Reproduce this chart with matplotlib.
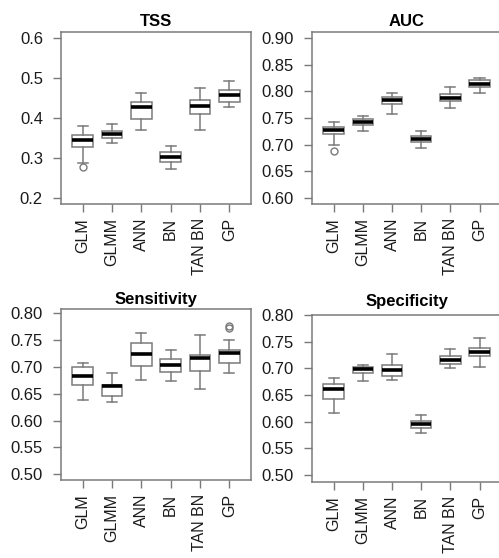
import matplotlib
matplotlib.use("Agg")
import matplotlib.pyplot as plt

plt.rcParams["font.family"] = ["Liberation Sans", "DejaVu Sans"]

models = ["GLM", "GLMM", "ANN", "BN", "TAN BN", "GP"]

# box summaries per model: lower whisker, Q1, median, Q3, upper whisker
tss_low = [0.286, 0.337, 0.370, 0.271, 0.371, 0.428]
tss_q1 = [0.328, 0.349, 0.398, 0.289, 0.409, 0.439]
tss_med = [0.346, 0.359, 0.427, 0.302, 0.430, 0.459]
tss_q3 = [0.357, 0.368, 0.441, 0.314, 0.446, 0.471]
tss_high = [0.380, 0.386, 0.463, 0.330, 0.476, 0.494]
tss_out = [[0.278], [], [], [], [], []]

auc_low = [0.700, 0.726, 0.757, 0.694, 0.769, 0.797]
auc_q1 = [0.719, 0.737, 0.776, 0.705, 0.782, 0.808]
auc_med = [0.728, 0.742, 0.784, 0.710, 0.788, 0.814]
auc_q3 = [0.734, 0.749, 0.790, 0.717, 0.795, 0.821]
auc_high = [0.743, 0.754, 0.798, 0.726, 0.808, 0.826]
auc_out = [[0.687], [], [], [], [], []]

sens_low = [0.638, 0.634, 0.675, 0.673, 0.658, 0.688]
sens_q1 = [0.666, 0.646, 0.701, 0.691, 0.693, 0.708]
sens_med = [0.683, 0.664, 0.725, 0.703, 0.716, 0.726]
sens_q3 = [0.699, 0.666, 0.744, 0.714, 0.722, 0.732]
sens_high = [0.708, 0.688, 0.763, 0.732, 0.760, 0.751]
sens_out = [[], [], [], [], [], [0.772, 0.777]]

spec_low = [0.617, 0.676, 0.678, 0.579, 0.701, 0.702]
spec_q1 = [0.643, 0.692, 0.686, 0.589, 0.709, 0.723]
spec_med = [0.662, 0.698, 0.697, 0.595, 0.715, 0.731]
spec_q3 = [0.670, 0.703, 0.706, 0.601, 0.723, 0.739]
spec_high = [0.681, 0.706, 0.726, 0.612, 0.736, 0.756]
spec_out = [[], [], [], [], [], []]

panels = [
    ("TSS", [0.1222, 0.6344, 0.3808, 0.3082], (0.184, 0.616), [0.2, 0.3, 0.4, 0.5, 0.6], "%.1f", 4,
     tss_low, tss_q1, tss_med, tss_q3, tss_high, tss_out),
    ("AUC", [0.6253, 0.6344, 0.3790, 0.3082], (0.588, 0.912),
     [0.60, 0.65, 0.70, 0.75, 0.80, 0.85, 0.90], "%.2f", 4,
     auc_low, auc_q1, auc_med, auc_q3, auc_high, auc_out),
    ("Sensitivity", [0.1222, 0.1398, 0.3808, 0.3073], (0.489, 0.809),
     [0.50, 0.55, 0.60, 0.65, 0.70, 0.75, 0.80], "%.2f", 3,
     sens_low, sens_q1, sens_med, sens_q3, sens_high, sens_out),
    ("Specificity", [0.6253, 0.1362, 0.3790, 0.2993], (0.487, 0.800),
     [0.50, 0.55, 0.60, 0.65, 0.70, 0.75, 0.80], "%.2f", 6.5,
     spec_low, spec_q1, spec_med, spec_q3, spec_high, spec_out),
]

edge = "#7a7a7a"

fig = plt.figure(figsize=(4.99, 5.58), dpi=100)

for title, pos, ylim, yticks, fmt, tpad, low, q1, med, q3, high, out in panels:
    ax = fig.add_axes(pos)
    stats = []
    for i, name in enumerate(models):
        stats.append(dict(label=name, whislo=low[i], q1=q1[i], med=med[i],
                          q3=q3[i], whishi=high[i], fliers=out[i]))
    ax.bxp(stats, positions=range(1, 7), widths=0.7, capwidths=0.35,
           patch_artist=True,
           boxprops=dict(facecolor="white", edgecolor=edge, linewidth=1.1),
           whiskerprops=dict(color=edge, linewidth=1.1),
           capprops=dict(color=edge, linewidth=1.1),
           medianprops=dict(color="black", linewidth=2.6, solid_capstyle="butt"),
           flierprops=dict(marker="o", markersize=5, markerfacecolor="none",
                           markeredgecolor=edge, markeredgewidth=1.0))
    ax.set_xlim(0.26, 6.74)
    ax.set_ylim(*ylim)
    ax.set_yticks(yticks)
    ax.set_yticklabels([fmt % v for v in yticks])
    ax.set_xticks(range(1, 7))
    ax.set_xticklabels(models, rotation=90)
    for s in ax.spines.values():
        s.set_color(edge)
        s.set_linewidth(1.1)
    ax.tick_params(axis="y", colors=edge, labelcolor="#1a1a1a", length=6,
                   width=1.0, pad=7, labelsize=12)
    ax.tick_params(axis="x", colors=edge, labelcolor="#1a1a1a", length=6,
                   width=1.0, pad=4, labelsize=11.5)
    ax.set_title(title, fontsize=12, fontweight="bold", pad=tpad)

fig.savefig("out.png", dpi=100)
